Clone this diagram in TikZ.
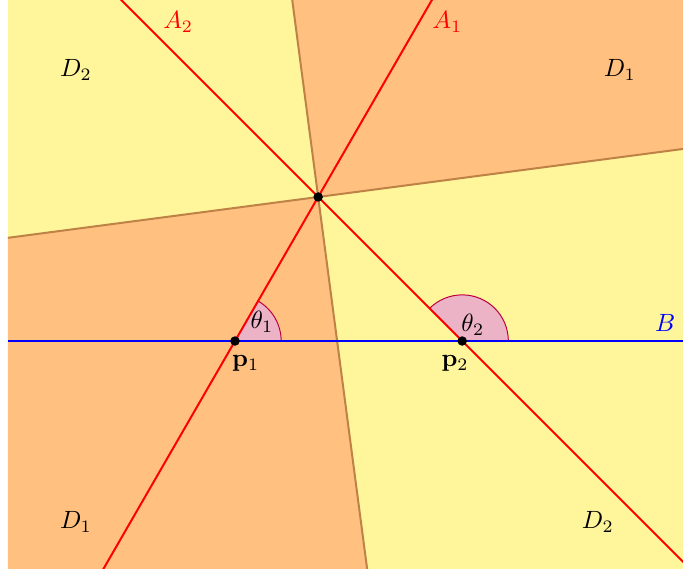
\documentclass[tikz,border=0pt]{standalone}
\usepackage{amsmath,amssymb}
\usepackage{xcolor}
\usetikzlibrary{calc}

\definecolor{regionone}{RGB}{255,192,128}
\definecolor{regiontwo}{RGB}{255,245,155}
\definecolor{bisector}{RGB}{190,130,70}

\begin{document}
\begin{tikzpicture}[
    lineA/.style={red, thick},
    lineB/.style={blue, thick},
    bis/.style={bisector, thick},
    angle/.style={fill=purple!30, draw=purple, thin},
    dot/.style={circle, fill=black, inner sep=0pt, minimum size=3.8pt},
]
\useasboundingbox (-3.31,-3.254) rectangle (6.31,4.803);

% Points
\coordinate (P1) at (0,0);
\coordinate (P2) at (3.2,0);
\coordinate (Q) at (60:2.3426);

\begin{scope}
\clip (-3.2,-3.211) rectangle (6.31,4.803);
% Regions D1 and D2
\fill[regiontwo] (-3.2,-3.211) rectangle (6.31,4.803);
\fill[regionone] (Q) -- ($(Q)+(7.5:15)$) -- ($(Q)+(52.5:21)$) -- ($(Q)+(97.5:15)$) -- cycle;
\fill[regionone] (Q) -- ($(Q)+(187.5:15)$) -- ($(Q)+(232.5:21)$) -- ($(Q)+(277.5:15)$) -- cycle;

% Bisectors
\draw[bis] ($(Q)+(7.5:-12)$) -- ($(Q)+(7.5:12)$);
\draw[bis] ($(Q)+(97.5:-12)$) -- ($(Q)+(97.5:12)$);

% Angles
\draw[angle] (P1) -- ++(0:0.65) arc[start angle=0, end angle=60, radius=0.65] -- cycle;
\draw[angle] (P2) -- ++(0:0.65) arc[start angle=0, end angle=135, radius=0.65] -- cycle;

% Lines
\draw[lineB] (-3.2,0) -- (6.31,0);
\draw[lineA] ($(P1)+(60:-6)$) -- ($(P1)+(60:8)$);
\draw[lineA] ($(P2)+(135:-6)$) -- ($(P2)+(135:8)$);
\end{scope}

% Points
\node[dot] (p1dot) at (P1) {};
\node[dot] (p2dot) at (P2) {};
\node[dot] (qdot) at (Q) {};

% Labels
\node[text=red] (a1) at (2.99,4.49) {$A_1$};
\node[text=red] (a2) at (-0.80,4.49) {$A_2$};
\node[text=blue] (b) at (6.06,0.25) {$B$};
\node (d2top) at (-2.24,3.82) {$D_2$};
\node (d1top) at (5.42,3.82) {$D_1$};
\node (d1bot) at (-2.24,-2.55) {$D_1$};
\node (d2bot) at (5.11,-2.55) {$D_2$};
\node (t1) at (0.38,0.27) {$\theta_1$};
\node (t2) at (3.35,0.23) {$\theta_2$};
\node (p1) at (0.15,-0.32) {$\mathbf{p}_1$};
\node (p2) at (3.10,-0.32) {$\mathbf{p}_2$};
\end{tikzpicture}
\end{document}
